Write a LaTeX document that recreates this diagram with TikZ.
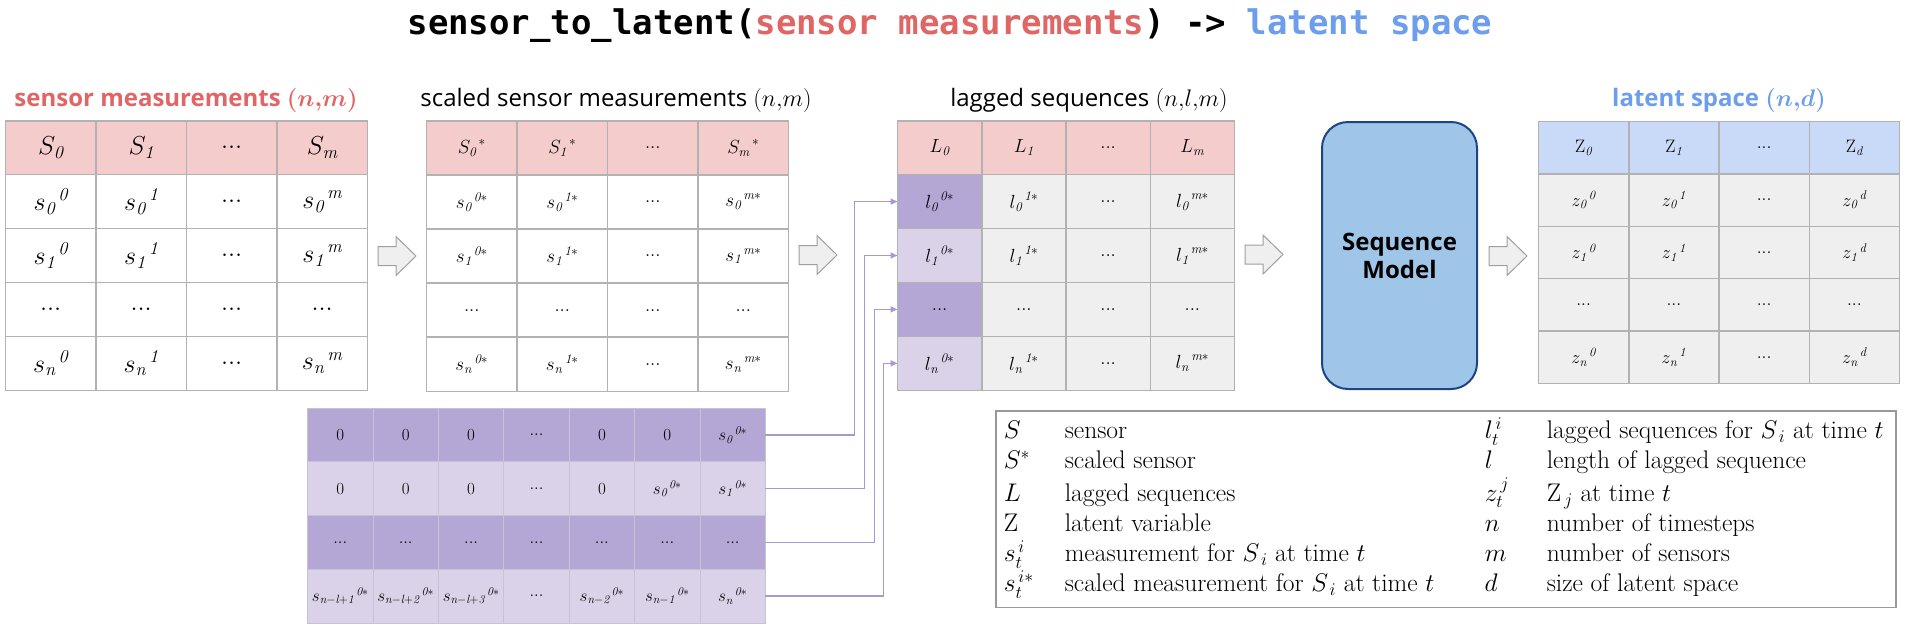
\RequirePackage{fix-cm}
\documentclass[tikz,border=0pt]{standalone}
\usepackage{amsmath}
\usepackage{fontspec}
\usepackage{array}
\usetikzlibrary{matrix,arrows.meta,positioning}

\newfontfamily\osans{Open Sans}
\newfontfamily\codefont{DejaVu Sans Mono}

\definecolor{hdrpink}{HTML}{F4CCCC}
\definecolor{hdrblue}{HTML}{C9DAF8}
\definecolor{cellgray}{HTML}{EFEFEF}
\definecolor{gridgray}{HTML}{B2B2B2}
\definecolor{botgrid}{HTML}{C8C2D8}
\definecolor{lagdark}{HTML}{B4A7D6}
\definecolor{laglight}{HTML}{D9D2E9}
\definecolor{titlered}{HTML}{E06666}
\definecolor{titleblue}{HTML}{6D9EEB}
\definecolor{modelfill}{HTML}{9FC5E8}
\definecolor{modeldraw}{HTML}{1C4587}
\definecolor{feedline}{HTML}{A898D2}

% cell entries
\newcommand{\tabhd}[2]{#1_{\mathit{#2}}}
\newcommand{\tabval}[3]{{#1_{\mathit{#2}}}^{\,\mathit{#3}}}
\newcommand{\tabvals}[3]{{#1_{\mathit{#2}}}^{\,\mathit{#3}*}}
\newcommand{\blockarrow}[2]{\draw[blockarr] (#1,#2) ++(0,-9.5) -- ++(18,0) -- ++(0,-10) -- ++(20,19.5) -- ++(-20,19.5) -- ++(0,-10) -- ++(-18,0) -- cycle;}

\tikzset{
  tbl/.style={matrix of math nodes, inner sep=0pt, column sep=-1.5pt, row sep=-1.5pt,
    nodes={draw=gridgray, line width=1.5pt, inner sep=0pt, outer sep=0pt, anchor=center}},
  tbltitle/.style={font=\osans\fontsize{24}{24}\selectfont},
  blockarr/.style={draw=gray!75, fill=cellgray, line width=1pt, line join=miter},
  seqbox/.style={draw=modeldraw, fill=modelfill, line width=2pt, rounded corners=26pt,
    minimum width=155pt, minimum height=267pt, align=center,
    font=\osans\bfseries\fontsize{24}{28}\selectfont},
  feed/.style={draw=feedline, line width=1.5pt, -{Triangle[length=7pt,width=6pt]}},
  legendbox/.style={draw=gray!80, line width=1.5pt, inner xsep=8pt, inner ysep=7pt,
    font=\fontsize{25.5}{30}\selectfont}
}

\begin{document}
\begin{tikzpicture}[x=1pt,y=-1pt]
  \useasboundingbox (0,0) rectangle (1907,632);

  \node at (950,26) (title) {\codefont\bfseries\fontsize{34}{34}\selectfont
    sensor\_to\_latent(\textcolor{titlered}{sensor measurements}) -> \textcolor{titleblue}{latent space}};

  % titles of the tables
  \node[tbltitle, text=titlered] at (186,100) (sensT) {\bfseries sensor measurements {\boldmath$(n{,}m)$}};
  \node[tbltitle] at (616,100) (sclT) {scaled sensor measurements $(n{,}m)$};
  \node[tbltitle] at (1089,100) (lagT) {lagged sequences $(n{,}l{,}m)$};
  \node[tbltitle, text=titleblue] at (1719,100) (latT) {\bfseries latent space {\boldmath$(n{,}d)$}};

  % sensor measurements
  \matrix (sens) at (186.5,255.5) [tbl, nodes={minimum width=90.5pt, minimum height=53.9pt, font=\fontsize{26}{26}\selectfont},
      row 1/.style={nodes={fill=hdrpink}}] {
    \tabhd{S}{0} & \tabhd{S}{1} & \mathbf{...} & \tabhd{S}{m} \\
    \tabval{s}{0}{0} & \tabval{s}{0}{1} & \mathbf{...} & \tabval{s}{0}{m} \\
    \tabval{s}{1}{0} & \tabval{s}{1}{1} & \mathbf{...} & \tabval{s}{1}{m} \\
    \mathbf{...} & \mathbf{...} & \mathbf{...} & \mathbf{...} \\
    \tabval{s}{n}{0} & \tabval{s}{n}{1} & \mathbf{...} & \tabval{s}{n}{m} \\
  };

  % scaled sensor measurements
  \matrix (scl) at (607.5,256) [tbl, nodes={minimum width=90.5pt, minimum height=54.1pt, font=\fontsize{19}{19}\selectfont},
      row 1/.style={nodes={fill=hdrpink}}] {
    {\tabhd{S}{0}}^{\,*} & {\tabhd{S}{1}}^{\,*} & ... & {\tabhd{S}{m}}^{\,*} \\
    \tabvals{s}{0}{0} & \tabvals{s}{0}{1} & ... & \tabvals{s}{0}{m} \\
    \tabvals{s}{1}{0} & \tabvals{s}{1}{1} & ... & \tabvals{s}{1}{m} \\
    ... & ... & ... & ... \\
    \tabvals{s}{n}{0} & \tabvals{s}{n}{1} & ... & \tabvals{s}{n}{m} \\
  };

  % lagged sequences
  \matrix (lag) at (1066,255.5) [tbl, nodes={fill=cellgray, minimum width=84.25pt, minimum height=53.9pt, font=\fontsize{19}{19}\selectfont},
      row 1/.style={nodes={fill=hdrpink}},
      row 2 column 1/.style={nodes={fill=lagdark}}, row 3 column 1/.style={nodes={fill=laglight}},
      row 4 column 1/.style={nodes={fill=lagdark}}, row 5 column 1/.style={nodes={fill=laglight}}] {
    \tabhd{L}{0} & \tabhd{L}{1} & ... & \tabhd{L}{m} \\
    \tabvals{l}{0}{0} & \tabvals{l}{0}{1} & ... & \tabvals{l}{0}{m} \\
    \tabvals{l}{1}{0} & \tabvals{l}{1}{1} & ... & \tabvals{l}{1}{m} \\
    ... & ... & ... & ... \\
    \tabvals{l}{n}{0} & \tabvals{l}{n}{1} & ... & \tabvals{l}{n}{m} \\
  };

  % latent space
  \matrix (lat) at (1719,252.5) [tbl, nodes={fill=cellgray, minimum width=90.25pt, minimum height=52.4pt, font=\fontsize{18}{18}\selectfont},
      row 1/.style={nodes={fill=hdrblue}}] {
    \tabhd{\mathrm{Z}}{0} & \tabhd{\mathrm{Z}}{1} & ... & \tabhd{\mathrm{Z}}{d} \\
    \tabval{z}{0}{0} & \tabval{z}{0}{1} & ... & \tabval{z}{0}{d} \\
    \tabval{z}{1}{0} & \tabval{z}{1}{1} & ... & \tabval{z}{1}{d} \\
    ... & ... & ... & ... \\
    \tabval{z}{n}{0} & \tabval{z}{n}{1} & ... & \tabval{z}{n}{d} \\
  };

  % lag windows of the first sensor
  \matrix (bot) at (536.5,515.5) [tbl, column sep=-1pt, row sep=-1pt,
      nodes={draw=botgrid, line width=1pt, minimum width=65.4pt, minimum height=53.75pt, font=\fontsize{17}{17}\selectfont},
      row 1/.style={nodes={fill=lagdark}}, row 2/.style={nodes={fill=laglight}},
      row 3/.style={nodes={fill=lagdark}}, row 4/.style={nodes={fill=laglight}}] {
    0 & 0 & 0 & ... & 0 & 0 & \tabvals{s}{0}{0} \\
    0 & 0 & 0 & ... & 0 & \tabvals{s}{0}{0} & \tabvals{s}{1}{0} \\
    ... & ... & ... & ... & ... & ... & ... \\
    \tabvals{s}{n-l+1}{0} & \tabvals{s}{n-l+2}{0} & \tabvals{s}{n-l+3}{0} & ... & \tabvals{s}{n-2}{0} & \tabvals{s}{n-1}{0} & \tabvals{s}{n}{0} \\
  };

  \node[seqbox] at (1399.5,255.5) (model) {Sequence\\Model};

  \blockarrow{378}{256}
  \blockarrow{799}{255}
  \blockarrow{1245}{254.5}
  \blockarrow{1489}{256}

  \draw[feed] (bot-1-7.east) -- ++(89,0) |- (lag-2-1.west);
  \draw[feed] (bot-2-7.east) -- ++(99,0) |- (lag-3-1.west);
  \draw[feed] (bot-3-7.east) -- ++(109,0) |- (lag-4-1.west);
  \draw[feed] (bot-4-7.east) -- ++(118,0) |- (lag-5-1.west);

  % legend
  \node[legendbox, anchor=north west] at (995,410) (legend) {%
    \begin{tabular}{@{}p{61pt}@{}p{420pt}@{}p{62pt}@{}p{341pt}@{}}
      $S$ & sensor & $l_t^{\,i}$ & lagged sequences for $S_{\,i}$ at time $t$ \\
      $S^*$ & scaled sensor & $l$ & length of lagged sequence \\
      $L$ & lagged sequences & $z_t^{\,j}$ & $\mathrm{Z}_{\,j}$ at time $t$ \\
      $\mathrm{Z}$ & latent variable & $n$ & number of timesteps \\
      $s_t^{\,i}$ & measurement for $S_{\,i}$ at time $t$ & $m$ & number of sensors \\
      $s_t^{\,i*}$ & scaled measurement for $S_{\,i}$ at time $t$ & $d$ & size of latent space \\
    \end{tabular}};
\end{tikzpicture}
\end{document}
